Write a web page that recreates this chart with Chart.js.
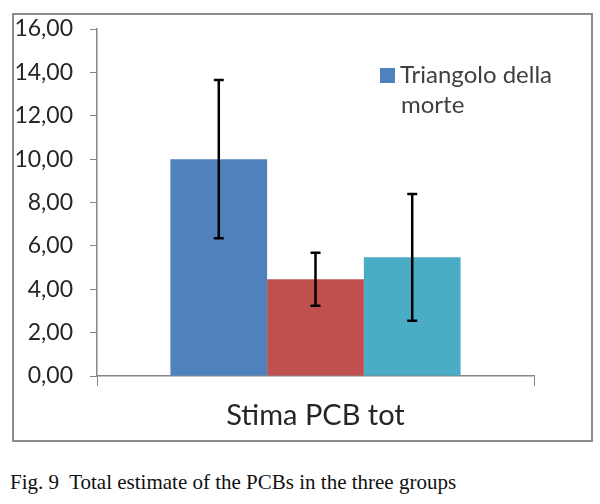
<!DOCTYPE html>
<html>
<head>
<meta charset="utf-8">
<script src="https://cdn.jsdelivr.net/npm/chart.js@4.4.1/dist/chart.umd.min.js"></script>
<style>
  html, body { margin: 0; padding: 0; background: #fff; }
  body { width: 600px; height: 504px; position: relative; overflow: hidden; }
  .chart-box {
    position: absolute; left: 12px; top: 13px;
    width: 577px; height: 425px;
    border: 2px solid #8c8c8c;
  }
  .caption {
    position: absolute; left: 10px; top: 470px;
    font-family: "Liberation Serif", "DejaVu Serif", serif;
    font-size: 21px; color: #111; white-space: pre;
  }
</style>
</head>
<body>
<div class="chart-box"><canvas id="pcbChart" width="576" height="424"></canvas></div>
<div class="caption">Fig. 9  Total estimate of the PCBs in the three groups</div>
<script>
// ---- DATA ----
const categories = ['Stima PCB tot'];
const seriesNames = ['Triangolo della morte', '', ''];
const seriesValues = [10.0, 4.46, 5.47];
const seriesErrors = [3.65, 1.22, 2.92];
const seriesColors = ['#4f81bd', '#c0504d', '#4bacc6'];
const yTicks = [0, 2, 4, 6, 8, 10, 12, 14, 16];

const FONT = 'Lato, "Open Sans", sans-serif';

// ---- ERROR BARS ----
const errorBars = {
  id: 'errorBars',
  afterDatasetsDraw(chart) {
    const ctx = chart.ctx;
    const y = chart.scales.y;
    ctx.save();
    ctx.strokeStyle = '#000';
    ctx.lineWidth = 2.5;
    chart.data.datasets.forEach((ds, i) => {
      const bar = chart.getDatasetMeta(i).data[0];
      const v = ds.data[0];
      const top = y.getPixelForValue(v + seriesErrors[i]);
      const bot = y.getPixelForValue(v - seriesErrors[i]);
      ctx.beginPath();
      ctx.moveTo(bar.x, top); ctx.lineTo(bar.x, bot);
      ctx.moveTo(bar.x - 5, top); ctx.lineTo(bar.x + 5, top);
      ctx.moveTo(bar.x - 5, bot); ctx.lineTo(bar.x + 5, bot);
      ctx.stroke();
    });
    ctx.restore();
  }
};

// ---- LEGEND (only first entry visible, wrapped like the original) ----
const insideLegend = {
  id: 'insideLegend',
  afterDraw(chart) {
    const ctx = chart.ctx;
    const area = chart.chartArea;
    const x = area.right - 154;
    const y = area.top + 39;
    ctx.save();
    ctx.fillStyle = seriesColors[0];
    ctx.fillRect(x, y, 15, 15);
    ctx.fillStyle = '#404040';
    ctx.font = '24px ' + FONT;
    ctx.textBaseline = 'alphabetic';
    ctx.fillText('Triangolo della', x + 20, y + 15);
    ctx.fillText('morte', x + 21, y + 45);
    ctx.restore();
  }
};

// ---- CHART ----
new Chart(document.getElementById('pcbChart'), {
  type: 'bar',
  data: {
    labels: categories,
    datasets: seriesValues.map((v, i) => ({
      label: seriesNames[i],
      data: [v],
      backgroundColor: seriesColors[i],
      borderWidth: 0,
      categoryPercentage: 0.664,
      barPercentage: 1.0
    }))
  },
  options: {
    responsive: false,
    animation: false,
    layout: { padding: { left: 0, right: 56, top: 14, bottom: 5 } },
    plugins: {
      legend: { display: false },
      tooltip: { enabled: false }
    },
    scales: {
      x: {
        grid: { display: true, drawOnChartArea: false, color: '#868686', tickLength: 10, offset: true },
        border: { display: true, color: '#868686', width: 1.5 },
        ticks: { color: '#262626', font: { family: FONT, size: 29 }, padding: 12 },
        afterFit: axis => {
          axis.height = 58;
          axis.paddingLeft = 0;
          axis.paddingRight = 0;
        }
      },
      y: {
        min: 0,
        max: 16,
        afterBuildTicks: axis => { axis.ticks = yTicks.map(v => ({ value: v })); },
        grid: { display: true, drawOnChartArea: false, color: '#868686', tickLength: 7 },
        border: { display: true, color: '#868686', width: 1.5 },
        ticks: {
          color: '#262626',
          padding: 17,
          font: { family: FONT, size: 23 },
          callback: v => v.toFixed(2).replace('.', ',')
        },
        afterFit: axis => {
          axis.width = 83;
          axis.paddingTop = 0;
          axis.paddingBottom = 0;
        }
      }
    }
  },
  plugins: [errorBars, insideLegend]
});
</script>
</body>
</html>
